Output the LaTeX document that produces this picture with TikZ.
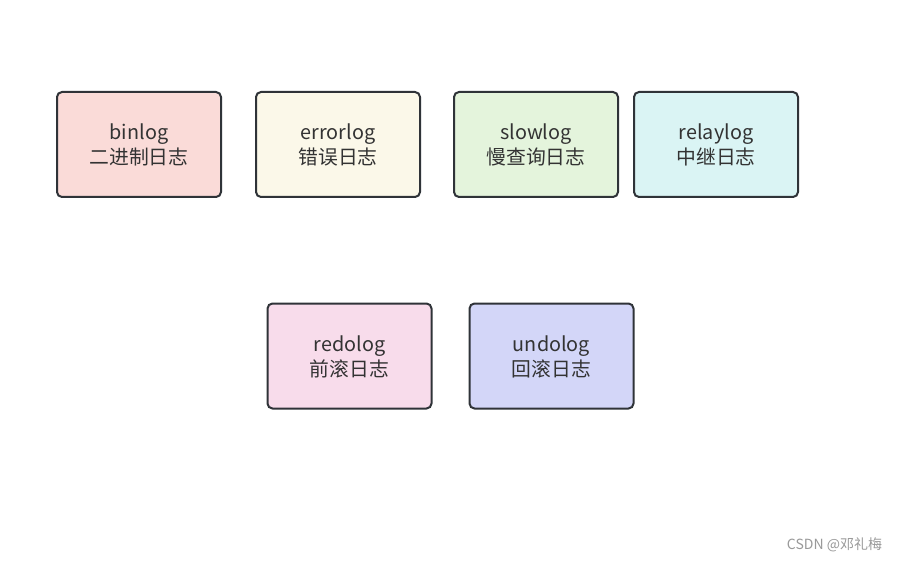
\documentclass[tikz,border=0pt]{standalone}
\usepackage{fontspec}
\setmainfont{Noto Sans CJK SC}
\usetikzlibrary{positioning}

\definecolor{binfill}{HTML}{FADBD8}
\definecolor{errfill}{HTML}{FBF8E9}
\definecolor{slowfill}{HTML}{E4F4DC}
\definecolor{relayfill}{HTML}{DAF4F4}
\definecolor{redofill}{HTML}{F8DCEB}
\definecolor{undofill}{HTML}{D3D6F8}
\definecolor{boxline}{HTML}{2F3338}
\definecolor{boxtext}{HTML}{333333}

\tikzset{
    logbox/.style={draw=boxline,line width=2pt,rounded corners=5pt,
        minimum width=164pt,minimum height=105pt,inner sep=0pt,
        align=center,text=boxtext,font=\fontsize{19.8pt}{25pt}\selectfont}
}

\begin{document}
\begin{tikzpicture}[x=1pt,y=-1pt]
    \useasboundingbox[fill=white] (0,0) rectangle (899,561);
    % top row
    \node[logbox,fill=binfill,text depth=-4pt](binlog) at (139,144.5){binlog\\二进制日志};
    \node[logbox,fill=errfill,text depth=-4pt](errorlog) at (338,144.5){errorlog\\错误日志};
    \node[logbox,fill=slowfill,text depth=-4pt](slowlog) at (536,144.5){slowlog\\慢查询日志};
    \node[logbox,fill=relayfill,text depth=-4pt](relaylog) at (716,144.5){relaylog\\中继日志};
    % bottom row
    \node[logbox,fill=redofill,text depth=-4pt](redolog) at (349.5,356){redolog\\前滚日志};
    \node[logbox,fill=undofill,text depth=-4pt](undolog) at (551.5,356){undolog\\回滚日志};
    \node[text=black!40,font=\fontsize{14pt}{16pt}\selectfont](mark) at (834.5,545){CSDN @邓礼梅};
\end{tikzpicture}
\end{document}
